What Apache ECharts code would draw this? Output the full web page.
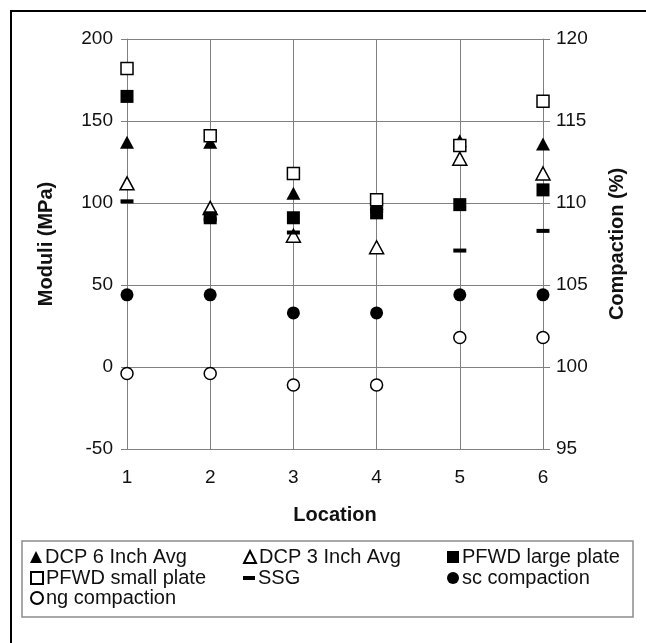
<!DOCTYPE html>
<html>
<head>
<meta charset="utf-8">
<script src="https://cdn.jsdelivr.net/npm/echarts@6/dist/echarts.min.js"></script>
<style>
  html, body { margin: 0; padding: 0; background: #fff; }
  #chart { width: 646px; height: 643px; }
</style>
</head>
<body>
<div id="chart"></div>
<script>
// Test locations along the x axis
const locations = [1, 2, 3, 4, 5, 6];

// Moduli (MPa), left axis
const dcp6 = [137, 137, 106, 100, 138, 136];
const dcp3 = [112, 97, 80, 73, 127, 118];
const pfwdLarge = [165, 91, 91, 94, 99, 108];
const pfwdSmall = [182, 141, 118, 102, 135, 162];
const ssg = [101, 90, 82, 95, 71, 83];

// Compaction (%), right axis
const scCompaction = [104.4, 104.4, 103.3, 103.3, 104.4, 104.4];
const ngCompaction = [99.6, 99.6, 98.9, 98.9, 101.8, 101.8];

// Axis ranges
const moduliTicks = { min: -50, max: 200, step: 50 };
const compactionTicks = { min: 95, max: 120, step: 5 };

const FONT = 'Liberation Sans, Arial, sans-serif';
const INK = '#111';
const GRID = '#808080';

const pairs = vals => locations.map((x, i) => [x, vals[i]]);

const filled = { color: '#000', opacity: 1 };
const open = { color: '#fff', borderColor: '#000', borderWidth: 1.5, opacity: 1 };

const seriesDefs = [
  { name: 'DCP 6 Inch Avg', data: dcp6, symbol: 'triangle', size: [14, 13], style: filled, axis: 0 },
  { name: 'DCP 3 Inch Avg', data: dcp3, symbol: 'triangle', size: [14, 13], style: open, axis: 0 },
  { name: 'PFWD large plate', data: pfwdLarge, symbol: 'rect', size: 13, style: filled, axis: 0 },
  { name: 'PFWD small plate', data: pfwdSmall, symbol: 'rect', size: 12, style: open, axis: 0 },
  { name: 'SSG', data: ssg, symbol: 'rect', size: [13, 4], style: filled, axis: 0 },
  { name: 'sc compaction', data: scCompaction, symbol: 'circle', size: 13, style: filled, axis: 1 },
  { name: 'ng compaction', data: ngCompaction, symbol: 'circle', size: 12, style: open, axis: 1 }
];

const series = seriesDefs.map(d => ({
  name: d.name,
  type: 'scatter',
  yAxisIndex: d.axis,
  data: pairs(d.data),
  symbol: d.symbol,
  symbolSize: d.size,
  itemStyle: d.style,
  emphasis: { disabled: true },
  z: 3
}));

// Legend entries laid out in three columns inside a framed box
const legendSlots = [
  { name: 'DCP 6 Inch Avg', left: 30, top: 547 },
  { name: 'DCP 3 Inch Avg', left: 243, top: 547 },
  { name: 'PFWD large plate', left: 447, top: 547 },
  { name: 'PFWD small plate', left: 30, top: 568 },
  { name: 'SSG', left: 243, top: 568, h: 4 },
  { name: 'sc compaction', left: 447, top: 568 },
  { name: 'ng compaction', left: 30, top: 588 }
];

const legends = legendSlots.map(s => ({
  data: [s.name],
  left: s.left,
  top: s.top,
  itemWidth: 12,
  itemHeight: s.h || 12,
  itemGap: 0,
  padding: 0,
  selectedMode: false,
  textStyle: { fontFamily: FONT, fontSize: 20, color: INK, padding: [0, 0, 0, -2] }
}));

const axisLabelStyle = { fontFamily: FONT, fontSize: 19, color: INK };
const axisNameStyle = { fontFamily: FONT, fontSize: 20, fontWeight: 'bold', color: INK };

const option = {
  backgroundColor: '#fff',
  animation: false,
  grid: { left: 127, right: 103, top: 39, bottom: 194, containLabel: false },
  legend: legends,
  xAxis: {
    type: 'value',
    min: 1, max: 6, interval: 1,
    name: 'Location',
    nameLocation: 'middle',
    nameGap: 56,
    nameTextStyle: axisNameStyle,
    axisLine: { show: true, lineStyle: { color: GRID, width: 1 } },
    axisTick: { show: true, length: 3, lineStyle: { color: GRID } },
    axisLabel: Object.assign({ margin: 19 }, axisLabelStyle),
    splitLine: { show: true, lineStyle: { color: GRID, width: 1 } }
  },
  yAxis: [
    {
      type: 'value',
      position: 'left',
      min: moduliTicks.min, max: moduliTicks.max, interval: moduliTicks.step,
      name: 'Moduli (MPa)',
      nameLocation: 'middle',
      nameGap: 71,
      nameTextStyle: axisNameStyle,
      axisLine: { show: true, lineStyle: { color: GRID, width: 1 } },
      axisTick: { show: true, length: 6, lineStyle: { color: GRID } },
      axisLabel: Object.assign({ margin: 14 }, axisLabelStyle),
      splitLine: { show: true, lineStyle: { color: GRID, width: 1 } }
    },
    {
      type: 'value',
      position: 'right',
      min: compactionTicks.min, max: compactionTicks.max, interval: compactionTicks.step,
      name: 'Compaction (%)',
      nameLocation: 'middle',
      nameGap: 64,
      nameRotate: 90,
      nameTextStyle: axisNameStyle,
      axisLine: { show: true, lineStyle: { color: GRID, width: 1 } },
      axisTick: { show: true, length: 7, lineStyle: { color: GRID } },
      axisLabel: Object.assign({ margin: 13 }, axisLabelStyle),
      splitLine: { show: false }
    }
  ],
  graphic: [
    {
      type: 'rect',
      shape: { x: 11, y: 11, width: 700, height: 700 },
      style: { fill: 'none', stroke: '#000', lineWidth: 2 },
      silent: true
    },
    {
      type: 'rect',
      shape: { x: 22, y: 541, width: 611, height: 76 },
      style: { fill: 'none', stroke: '#8c8c8c', lineWidth: 1.5 },
      silent: true
    }
  ],
  series: series
};

const chart = echarts.init(document.getElementById('chart'), null, { renderer: 'canvas' });
chart.setOption(option);
</script>
</body>
</html>
